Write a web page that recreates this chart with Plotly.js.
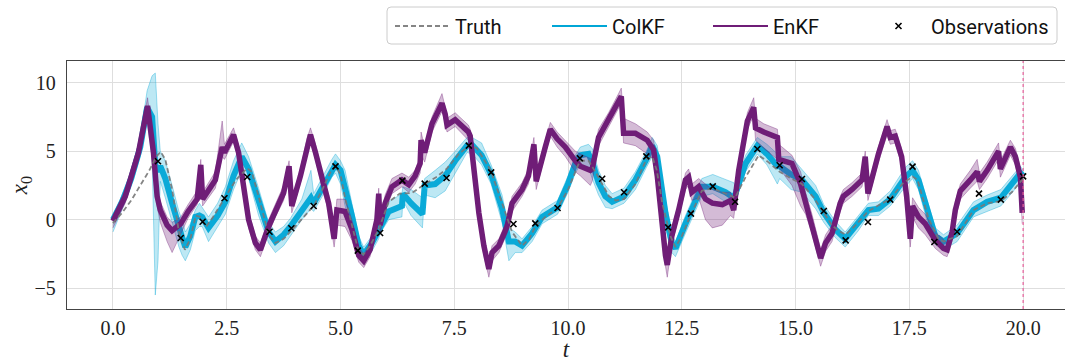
<!DOCTYPE html>
<html>
<head>
<meta charset="utf-8">
<script src="https://cdn.plot.ly/plotly-3.0.1.min.js"></script>
<style>html,body{margin:0;padding:0;background:#fff;overflow:hidden;}#chart{width:1065px;height:362px;}</style>
</head>
<body>
<div id="chart"></div>
<script>
// ---- Observations ----
const obsT = [0.99,1.49,1.97,2.45,2.95,3.44,3.92,4.41,4.89,5.38,5.87,6.36,6.85,7.33,7.82,8.31,8.80,9.28,9.77,10.26,10.75,11.23,11.72,12.20,12.70,13.18,13.67,14.16,14.65,15.14,15.62,16.10,16.59,17.08,17.57,18.05,18.55,19.03,19.51,20.00];
const obsX = [4.26,-1.34,-0.15,1.56,3.11,-0.88,-0.63,1.00,3.89,-2.26,-0.97,2.85,2.63,3.04,5.40,3.45,-0.32,-0.27,0.85,4.48,2.99,2.00,4.62,-0.56,0.44,2.43,1.31,5.16,3.97,2.97,0.63,-1.51,-0.17,1.46,3.87,-1.63,-0.88,1.90,1.46,3.16];

// ---- Truth ----
const truthT = [0.00,0.20,0.40,0.60,0.80,0.95,1.05,1.15,1.30,1.45,1.58,1.70,1.82,1.92,2.05,2.20,2.45,2.70,2.95,3.05,3.20,3.42,3.57,3.75,3.95,4.20,4.41,4.60,4.80,4.90,5.00,5.10,5.25,5.38,5.50,5.65,5.84,6.06,6.30,6.57,6.86,7.10,7.33,7.60,7.85,8.00,8.30,8.55,8.77,8.99,9.15,9.28,9.50,9.77,10.00,10.26,10.45,10.60,10.75,10.90,11.05,11.23,11.48,11.72,11.85,11.95,12.07,12.25,12.36,12.50,12.70,12.94,13.18,13.45,13.67,13.90,14.19,14.40,14.65,14.90,15.14,15.40,15.62,15.80,15.94,16.10,16.35,16.59,16.85,17.08,17.34,17.57,17.68,17.92,18.14,18.25,18.55,18.91,19.21,19.51,19.75,20.00];
const truthX = [-0.25,0.50,1.40,2.50,3.60,4.60,4.95,4.40,2.20,-0.90,-2.20,-1.40,0.30,0.20,-0.50,0.20,1.50,2.90,3.75,3.50,1.70,-1.10,-1.70,-1.40,-0.70,0.20,1.00,2.20,3.60,3.90,3.30,1.60,-0.50,-2.10,-2.55,-1.90,-0.70,1.30,1.90,1.95,2.60,3.10,3.70,4.80,5.45,5.20,3.60,1.20,-0.90,-1.90,-1.40,-0.50,0.20,0.85,2.20,4.30,4.30,3.50,2.60,1.70,1.40,1.50,2.60,4.40,4.60,3.60,1.20,-1.20,-2.00,-1.20,0.40,2.10,2.30,1.90,1.60,3.10,4.70,4.20,3.50,3.00,2.60,1.60,0.50,-0.40,-0.80,-1.10,-0.30,0.60,1.10,1.50,2.60,3.15,2.90,0.10,-1.40,-1.60,-1.20,0.70,1.20,1.35,2.00,3.00];

// ---- ColKF ensemble (centre, lower and upper envelope) ----
const colkfT   = [0.00,0.20,0.40,0.60,0.75,0.86,0.93,0.99,1.04,1.15,1.30,1.45,1.52,1.59,1.70,1.81,1.90,1.96,2.10,2.30,2.47,2.65,2.83,2.98,3.20,3.42,3.57,3.75,3.90,4.15,4.35,4.41,4.60,4.81,4.89,5.00,5.10,5.25,5.40,5.51,5.69,5.84,5.87,6.06,6.35,6.37,6.55,6.80,6.85,7.08,7.30,7.52,7.78,7.89,8.10,8.31,8.55,8.70,8.84,8.99,9.21,9.43,9.77,10.00,10.16,10.27,10.45,10.53,10.67,10.82,10.97,11.23,11.48,11.72,11.85,11.96,12.14,12.28,12.36,12.58,12.72,12.94,13.18,13.46,13.64,13.68,13.90,14.16,14.37,14.60,14.65,14.90,15.14,15.44,15.62,15.87,16.09,16.38,16.60,16.82,17.08,17.41,17.57,17.70,17.92,18.07,18.25,18.55,18.91,19.21,19.51,19.79,19.94,20.00];
const colkfMid = [0.00,1.30,3.00,5.30,8.20,7.50,4.00,3.50,3.90,3.00,1.20,-0.70,-1.30,-2.00,-1.20,0.20,0.30,0.20,-0.60,0.30,1.30,3.20,4.60,3.70,1.30,-0.90,-1.60,-1.10,-0.50,0.70,1.60,1.20,2.40,3.70,4.00,3.60,2.40,0.30,-1.90,-2.55,-1.70,-0.90,-0.60,0.60,1.00,1.90,1.20,0.40,2.50,2.60,3.20,4.30,5.40,5.45,4.70,3.30,0.80,-1.60,-1.60,-1.90,-1.00,0.20,0.90,2.60,4.10,4.70,4.80,4.20,2.70,1.70,1.30,1.70,2.90,4.40,5.40,4.60,0.50,-1.70,-2.10,-0.30,0.70,2.40,2.40,2.00,1.60,1.90,4.10,5.40,4.80,3.90,3.90,3.30,2.90,1.70,0.50,-0.70,-1.40,-0.20,0.70,0.80,1.50,3.10,3.60,2.90,0.30,-1.20,-1.60,-1.00,0.70,1.30,1.60,2.70,3.40,3.20];
const colkfLo  = [-0.90,0.80,2.40,4.60,7.20,4.50,-5.50,-3.00,2.80,1.60,-0.30,-2.00,-2.60,-3.00,-2.20,-0.80,-0.50,-0.50,-1.60,-0.50,0.40,2.20,3.60,3.00,0.30,-1.70,-2.40,-1.90,-1.20,0.00,0.80,0.60,1.70,3.10,3.40,2.60,1.00,-0.70,-2.60,-3.10,-2.30,-1.40,-1.00,0.00,0.20,1.40,0.30,-0.60,1.80,1.60,2.10,3.40,4.90,4.80,4.00,2.60,-0.20,-3.00,-2.40,-2.40,-1.60,-0.30,0.40,2.00,3.40,4.00,3.80,3.00,1.80,0.90,0.80,1.20,2.20,3.80,4.60,3.60,-0.60,-2.40,-2.70,-1.00,0.10,1.70,1.90,1.30,1.00,1.40,3.50,4.80,4.00,2.60,3.00,2.20,2.00,0.80,-0.20,-1.30,-2.00,-0.80,0.30,0.30,1.00,2.40,3.00,2.20,-0.50,-1.80,-2.20,-1.60,0.20,0.60,1.00,2.10,2.80,2.80];
const colkfHi  = [0.30,1.80,3.60,6.00,9.40,10.50,10.70,7.00,5.00,4.30,2.50,0.60,0.00,-0.90,-0.30,0.70,1.20,0.90,0.20,1.20,2.40,4.30,5.60,4.60,2.30,-0.20,-0.90,-0.50,0.10,1.50,3.60,1.90,3.10,4.40,4.80,4.30,3.60,1.20,-1.20,-2.00,-1.20,-0.30,-0.20,1.30,1.90,2.40,2.20,1.60,3.00,3.60,4.20,5.00,6.00,6.00,5.60,4.00,1.80,-0.60,-0.90,-1.40,-0.50,0.70,1.40,3.20,4.70,5.30,5.50,5.20,3.60,2.50,1.90,2.30,3.50,5.00,6.00,5.40,1.50,-1.00,-1.60,0.30,1.30,3.00,3.30,2.90,2.70,2.40,4.70,6.00,5.50,4.80,4.60,4.60,3.70,2.50,1.10,-0.10,-0.90,0.30,1.20,1.30,2.10,3.80,4.30,3.60,1.00,-0.60,-1.10,-0.40,1.30,1.80,2.20,3.30,3.90,3.60];

// ---- EnKF ensemble (centre, lower and upper envelope) ----
const enkfT   = [0.00,0.27,0.56,0.76,0.89,0.97,1.04,1.19,1.30,1.49,1.65,1.85,1.93,1.97,2.25,2.40,2.45,2.65,2.76,2.87,2.98,3.13,3.24,3.42,3.57,3.75,3.87,3.93,4.12,4.26,4.34,4.45,4.59,4.74,4.86,4.92,5.10,5.25,5.40,5.51,5.65,5.80,5.84,5.87,5.98,6.13,6.35,6.50,6.64,6.75,6.77,6.85,7.01,7.23,7.30,7.34,7.52,7.81,7.85,7.93,8.04,8.15,8.26,8.33,8.48,8.66,8.77,8.99,9.13,9.25,9.30,9.50,9.61,9.76,9.94,10.16,10.27,10.49,10.53,10.67,10.89,11.11,11.17,11.22,11.48,11.74,11.88,11.96,12.03,12.14,12.18,12.28,12.43,12.58,12.65,12.72,12.87,13.02,13.17,13.39,13.57,13.64,13.75,13.94,14.08,14.12,14.30,14.60,14.63,14.92,15.11,15.22,15.36,15.51,15.55,15.66,15.80,15.98,16.05,16.24,16.46,16.53,16.59,16.82,17.01,17.08,17.19,17.33,17.44,17.52,17.57,17.70,17.85,18.07,18.25,18.33,18.44,18.51,18.62,18.84,18.99,19.04,19.21,19.46,19.50,19.72,19.83,19.94,19.98];
const enkfMid = [-0.10,1.70,4.90,8.30,4.90,1.70,0.70,-0.40,-0.80,-0.30,0.60,1.50,4.00,1.50,2.90,5.30,4.90,6.20,4.90,2.40,0.00,-1.70,-2.20,-0.50,0.70,1.95,3.90,1.00,3.20,5.35,6.20,4.90,2.90,1.20,-1.40,0.70,0.60,-0.70,-2.60,-3.00,-2.20,0.00,1.90,-0.40,1.20,2.40,2.90,2.55,3.20,4.10,5.80,4.90,7.00,8.50,7.70,6.90,7.30,6.40,6.10,3.70,0.50,-1.90,-3.60,-2.40,-1.90,-0.50,1.20,2.20,3.20,5.50,2.80,5.30,6.60,5.90,5.30,4.30,3.90,3.60,3.70,6.00,7.30,8.70,9.00,6.30,6.30,5.80,5.10,3.20,0.50,-2.60,-3.30,-1.20,0.70,2.90,3.10,2.00,2.40,1.50,1.20,1.10,1.40,0.70,3.60,7.20,8.20,6.70,6.40,6.00,4.40,4.10,2.60,1.20,-0.30,-2.20,-2.80,-1.70,-1.00,1.20,1.70,2.20,2.90,4.60,1.90,4.80,6.80,6.00,6.10,4.60,1.70,-1.40,1.00,0.20,-0.30,-1.50,-2.10,-2.20,-0.90,0.70,2.10,2.90,3.50,2.80,3.60,5.00,3.70,5.30,4.60,3.10,0.50];
const enkfLo  = [-0.60,1.20,4.30,7.60,4.20,1.00,-0.20,-1.60,-2.40,-1.00,0.10,1.10,3.00,1.00,2.30,4.60,4.40,5.70,4.40,1.80,-0.60,-2.20,-2.70,-1.00,0.20,1.40,3.00,0.50,2.70,4.80,5.70,4.40,2.30,0.60,-2.00,-0.40,-0.50,-1.50,-3.10,-3.50,-2.70,-0.60,1.20,-1.00,0.60,1.90,2.40,2.00,2.60,3.40,4.80,4.20,6.40,7.90,7.10,6.40,6.80,5.80,5.60,3.00,-0.20,-2.60,-4.20,-3.00,-2.40,-1.00,0.60,1.70,2.60,4.60,2.20,4.80,6.10,5.30,4.60,3.50,3.20,2.50,2.80,5.40,6.80,8.20,8.50,5.60,5.40,4.80,4.40,2.50,-0.20,-3.40,-4.20,-1.80,0.10,2.20,2.50,1.40,1.60,0.00,-0.60,-0.40,0.30,0.10,3.00,6.60,7.60,5.80,5.20,4.40,3.80,2.50,1.00,0.40,-1.00,-2.80,-3.40,-2.30,-1.60,0.60,1.20,1.70,2.40,3.80,1.40,4.20,6.20,5.50,5.60,4.00,1.10,-2.00,0.20,-0.60,-1.10,-2.10,-2.60,-2.70,-1.50,0.10,1.50,2.30,2.80,2.20,3.00,4.40,3.10,4.70,4.00,2.40,-0.30];
const enkfHi  = [0.30,2.20,5.40,8.90,5.50,2.30,1.30,0.20,-0.20,0.20,1.10,2.10,4.40,2.00,3.50,7.20,5.50,6.70,5.40,3.00,0.60,-1.20,-1.70,0.00,1.20,2.50,4.30,1.50,3.70,5.90,6.70,5.50,3.50,1.80,-0.80,1.50,1.50,0.00,-2.00,-2.50,-1.70,0.60,2.30,0.10,1.80,3.00,3.40,3.10,3.60,4.60,6.40,5.30,7.50,9.20,8.20,7.40,7.80,6.90,6.60,4.30,1.20,-1.30,-3.00,-1.90,-1.40,0.00,1.70,2.70,3.70,6.00,3.30,5.80,7.10,6.40,5.80,5.00,4.80,4.50,4.40,6.60,7.80,9.20,9.60,7.40,7.00,6.40,5.80,3.90,1.20,-2.00,-2.60,-0.60,1.20,3.40,3.70,2.60,3.00,2.60,2.20,2.00,2.00,1.30,4.10,7.80,8.90,7.40,7.00,6.60,5.50,4.70,3.50,2.00,0.40,-1.60,-2.20,-1.10,-0.40,1.70,2.20,2.70,3.40,5.00,2.40,5.30,7.30,6.50,6.60,5.20,2.30,-0.80,1.60,0.90,0.40,-0.90,-1.50,-1.70,-0.40,1.30,2.60,3.60,4.40,3.40,4.20,5.60,4.30,5.80,5.20,3.80,1.50];

// ---- Styles ----
const cyan = '#00A6D6', purple = '#6F1D77';
const serif = '"Liberation Serif", "DejaVu Serif", serif';
const sans = 'Roboto, "Noto Sans", sans-serif';

function band(t, lo, hi, lineCol, fillCol) {
  return [
    {x: t, y: hi, mode: 'lines', line: {color: lineCol, width: 0.8}, showlegend: false, hoverinfo: 'skip'},
    {x: t, y: lo, mode: 'lines', line: {color: lineCol, width: 0.8}, fill: 'tonexty', fillcolor: fillCol, showlegend: false, hoverinfo: 'skip'}
  ];
}

const traces = [];
traces.push(...band(colkfT, colkfLo, colkfHi, 'rgba(0,166,214,0.45)', 'rgba(0,166,214,0.26)'));
traces.push({x: colkfT, y: colkfMid, mode: 'lines', line: {color: 'rgba(0,166,214,0.95)', width: 6}, showlegend: false, hoverinfo: 'skip'});
traces.push(...band(enkfT, enkfLo, enkfHi, 'rgba(111,29,119,0.45)', 'rgba(111,29,119,0.30)'));
traces.push({x: enkfT, y: enkfMid, mode: 'lines', line: {color: purple, width: 5.5}, showlegend: false, hoverinfo: 'skip'});
traces.push({x: truthT, y: truthX, mode: 'lines', name: 'Truth', line: {color: 'rgba(120,120,120,0.9)', width: 1.8, dash: '5px,3px'}, legend: 'legend'});
traces.push({x: [null], y: [null], mode: 'lines', name: 'ColKF', line: {color: cyan, width: 1.8}, legend: 'legend2'});
traces.push({x: [null], y: [null], mode: 'lines', name: 'EnKF', line: {color: purple, width: 1.8}, legend: 'legend3'});
traces.push({x: obsT, y: obsX, mode: 'markers', name: 'Observations', marker: {symbol: 'x-thin', size: 6, color: 'black', line: {color: 'black', width: 1.6}}, legend: 'legend4'});

function leg(xpx) {
  return {orientation: 'h', x: (xpx - 67) / 998, xanchor: 'left', y: 1 + (61 - 26) / 248, yanchor: 'middle',
          borderwidth: 0, bgcolor: 'rgba(0,0,0,0)', itemwidth: 55,
          font: {family: sans, size: 20, color: '#111'}};
}

// legend frame (rounded rectangle, paper coordinates)
const bx0 = (387 - 67) / 998, bx1 = (1057 - 67) / 998, byTop = 1 + (61 - 7) / 248, byBot = 1 + (61 - 44) / 248;
const rx = 4 / 998, ry = 4 / 248;
const framePath = `M${bx0+rx},${byTop} L${bx1-rx},${byTop} Q${bx1},${byTop} ${bx1},${byTop-ry} L${bx1},${byBot+ry} Q${bx1},${byBot} ${bx1-rx},${byBot} L${bx0+rx},${byBot} Q${bx0},${byBot} ${bx0},${byBot+ry} L${bx0},${byTop-ry} Q${bx0},${byTop} ${bx0+rx},${byTop} Z`;

const layout = {
  width: 1065, height: 362,
  margin: {l: 67, r: 0, t: 61, b: 53},
  paper_bgcolor: '#fff', plot_bgcolor: '#fff',
  showlegend: true,
  legend: leg(390), legend2: leg(547), legend3: leg(708), legend4: leg(866),
  xaxis: {
    range: [-1.01, 20.92], tickvals: [0, 2.5, 5, 7.5, 10, 12.5, 15, 17.5, 20],
    ticktext: ['0.0', '2.5', '5.0', '7.5', '10.0', '12.5', '15.0', '17.5', '20.0'],
    showgrid: true, gridcolor: '#dedede', gridwidth: 1, zeroline: false,
    showline: true, mirror: true, linecolor: '#444', linewidth: 1.3,
    ticks: '', ticklabelstandoff: 1,
    tickfont: {family: serif, size: 20, color: '#222'},
    title: {text: '<i>t</i>', font: {family: serif, size: 23, color: '#222'}, standoff: 3}
  },
  yaxis: {
    range: [-6.52, 11.58], tickvals: [-5, 0, 5, 10],
    showgrid: true, gridcolor: '#dedede', gridwidth: 1, zeroline: false,
    showline: true, mirror: true, linecolor: '#444', linewidth: 1.3,
    ticks: '', ticklabelstandoff: 6,
    tickfont: {family: serif, size: 20, color: '#222'},
    title: {text: '<i>x</i><sub>0</sub>', font: {family: serif, size: 23, color: '#222'}, standoff: 0}
  },
  shapes: [
    {type: 'line', xref: 'x', yref: 'paper', x0: 20, x1: 20, y0: 0, y1: 1,
     line: {color: '#E8609C', width: 1.2, dash: 'dot'}},
    {type: 'path', xref: 'paper', yref: 'paper', path: framePath, layer: 'below',
     fillcolor: '#fff', line: {color: '#cccccc', width: 1}}
  ]
};

Plotly.newPlot('chart', traces, layout, {displayModeBar: false, staticPlot: true});
</script>
</body>
</html>
